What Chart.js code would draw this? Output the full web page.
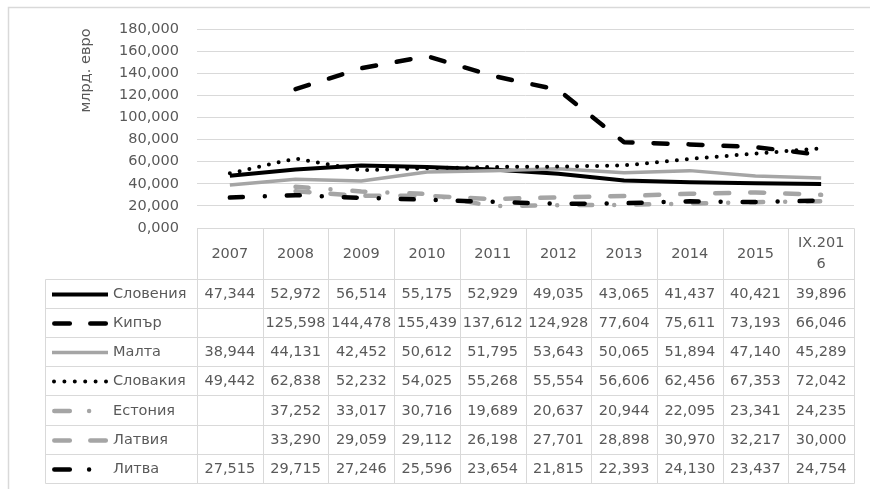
<!DOCTYPE html>
<html>
<head>
<meta charset="utf-8">
<script src="https://cdn.jsdelivr.net/npm/chart.js@4/dist/chart.umd.min.js"></script>
<style>
  html, body { margin: 0; padding: 0; background: #fff; }
  canvas { display: block; }
</style>
</head>
<body>
<canvas id="c" width="870" height="489"></canvas>
<script>
// Categories (x axis / table header)
const categories = ['2007', '2008', '2009', '2010', '2011', '2012', '2013', '2014', '2015', 'IX.2016'];

// Series values (млрд. евро)
const slovenia = [47.344, 52.972, 56.514, 55.175, 52.929, 49.035, 43.065, 41.437, 40.421, 39.896];
const cyprus   = [null, 125.598, 144.478, 155.439, 137.612, 124.928, 77.604, 75.611, 73.193, 66.046];
const malta    = [38.944, 44.131, 42.452, 50.612, 51.795, 53.643, 50.065, 51.894, 47.140, 45.289];
const slovakia = [49.442, 62.838, 52.232, 54.025, 55.268, 55.554, 56.606, 62.456, 67.353, 72.042];
const estonia  = [null, 37.252, 33.017, 30.716, 19.689, 20.637, 20.944, 22.095, 23.341, 24.235];
const latvia   = [null, 33.290, 29.059, 29.112, 26.198, 27.701, 28.898, 30.970, 32.217, 30.000];
const lithuania = [27.515, 29.715, 27.246, 25.596, 23.654, 21.815, 22.393, 24.130, 23.437, 24.754];

const seriesNames = ['Словения', 'Кипър', 'Малта', 'Словакия', 'Естония', 'Латвия', 'Литва'];
const seriesValues = [slovenia, cyprus, malta, slovakia, estonia, latvia, lithuania];

// Y axis ticks
const yMin = 0, yMax = 180, yStep = 20;
const yTitle = 'млрд. евро';

// Line styles per series (colour, width, dash in plot, dash in table key)
const BLACK = '#000000', GREY = '#a5a5a5';
const styles = [
  { color: BLACK, width: 4,   dash: [],              cap: 'butt',  key: [],                 keyFrom: 52,   keyTo: 108 },
  { color: BLACK, width: 4.5, dash: [14, 21],        cap: 'round', key: [15.5, 20.5],       keyFrom: 54.3, keyTo: 105.8 },
  { color: GREY,  width: 3.5, dash: [],              cap: 'butt',  key: [],                 keyFrom: 52,   keyTo: 108 },
  { color: BLACK, width: 4,   dash: [0, 10],         cap: 'round', key: [0, 10.4],          keyFrom: 54,   keyTo: 106.5 },
  { color: GREY,  width: 4.5, dash: [13, 22, 0, 22], cap: 'round', key: [15.5, 19.3, 0, 99], keyFrom: 54.3, keyTo: 89.3 },
  { color: GREY,  width: 4.5, dash: [14, 21],        cap: 'round', key: [15.5, 20.5],       keyFrom: 54.3, keyTo: 105.8 },
  { color: BLACK, width: 4.5, dash: [13, 22, 0, 22], cap: 'round', key: [15.5, 19.3, 0, 99], keyFrom: 54.3, keyTo: 89.3 }
];

const TEXT = '#595959';
const RULE = '#d9d9d9';
const FONT_FAMILY = '"DejaVu Sans", sans-serif';
const FONT_SIZE = 14.5;

const fmt = v => v.toFixed(3).replace('.', ',');

const datasets = seriesNames.map((name, i) => ({
  label: name,
  data: seriesValues[i],
  borderColor: styles[i].color,
  backgroundColor: styles[i].color,
  borderWidth: styles[i].width,
  borderDash: styles[i].dash,
  borderCapStyle: styles[i].cap,
  borderJoinStyle: 'round',
  pointRadius: 0,
  pointHoverRadius: 0,
  tension: 0,
  fill: false,
  spanGaps: false,
  order: seriesNames.length - 1 - i
}));

// Table geometry (below the plot)
const HEADER_H = 50;
const ROW_H = 29.1;
const KEY_LEFT = 45;
const LABEL_X = 113;

function wrapText(ctx, text, maxW) {
  const lines = [];
  let cur = '';
  for (const ch of text) {
    if (cur && ctx.measureText(cur + ch).width > maxW) {
      lines.push(cur);
      cur = ch;
    } else {
      cur += ch;
    }
  }
  if (cur) lines.push(cur);
  return lines;
}

const decorPlugin = {
  id: 'decor',
  beforeDraw(chart) {
    const ctx = chart.ctx;
    ctx.save();
    ctx.fillStyle = '#ffffff';
    ctx.fillRect(0, 0, chart.width, chart.height);
    // outer frame
    ctx.strokeStyle = RULE;
    ctx.lineWidth = 1.5;
    ctx.beginPath();
    ctx.moveTo(8.5, chart.height + 5);
    ctx.lineTo(8.5, 7.5);
    ctx.lineTo(chart.width + 5, 7.5);
    ctx.stroke();
    // axis title
    ctx.fillStyle = TEXT;
    ctx.font = FONT_SIZE + 'px ' + FONT_FAMILY;
    ctx.textAlign = 'center';
    ctx.textBaseline = 'middle';
    ctx.translate(86, 70.5);
    ctx.rotate(-Math.PI / 2);
    ctx.fillText(yTitle, 0, 0);
    ctx.restore();
  },
  afterDraw(chart) {
    const ctx = chart.ctx;
    const xs = chart.scales.x;
    const area = chart.chartArea;
    const n = categories.length;
    const step = xs.getPixelForValue(1) - xs.getPixelForValue(0);
    const bounds = [];
    for (let i = 0; i <= n; i++) bounds.push(Math.round(xs.getPixelForValue(0) - step / 2 + i * step) + 0.5);
    const top = Math.round(area.bottom) + 0.5;
    const headBottom = Math.round(top + HEADER_H) + 0.5;
    const rowY = k => Math.round(headBottom + k * ROW_H - 0.5) + 0.5;
    const tableBottom = rowY(seriesNames.length);
    const right = bounds[n];

    ctx.save();
    ctx.strokeStyle = RULE;
    ctx.lineWidth = 1;
    ctx.beginPath();
    // column verticals
    bounds.forEach(b => { ctx.moveTo(b, top); ctx.lineTo(b, tableBottom); });
    // left edge of key column
    ctx.moveTo(KEY_LEFT + 0.5, headBottom); ctx.lineTo(KEY_LEFT + 0.5, tableBottom);
    // horizontals
    ctx.moveTo(bounds[0], top); ctx.lineTo(right, top);
    for (let k = 0; k <= seriesNames.length; k++) {
      const y = rowY(k);
      ctx.moveTo(KEY_LEFT + 0.5, y); ctx.lineTo(right, y);
    }
    ctx.stroke();

    ctx.fillStyle = TEXT;
    ctx.font = FONT_SIZE + 'px ' + FONT_FAMILY;
    ctx.textBaseline = 'middle';
    ctx.textAlign = 'center';
    // header labels
    const lh = 21;
    categories.forEach((c, i) => {
      const cx = xs.getPixelForValue(i);
      const lines = wrapText(ctx, c, step - 14);
      const cy = (top + headBottom) / 2 - (lines.length - 1) * lh / 2;
      lines.forEach((ln, j) => ctx.fillText(ln, cx, cy + j * lh));
    });
    // value cells
    seriesValues.forEach((vals, r) => {
      const cy = (rowY(r) + rowY(r + 1)) / 2 + 0.5;
      vals.forEach((v, i) => {
        if (v === null) return;
        ctx.fillText(fmt(v), xs.getPixelForValue(i), cy);
      });
    });
    // legend keys and names
    ctx.textAlign = 'left';
    seriesNames.forEach((name, r) => {
      const cy = (rowY(r) + rowY(r + 1)) / 2 + 0.5;
      const st = styles[r];
      ctx.save();
      ctx.strokeStyle = st.color;
      ctx.lineWidth = st.width;
      ctx.lineCap = st.cap;
      ctx.setLineDash(st.key);
      ctx.beginPath();
      ctx.moveTo(st.keyFrom, cy);
      ctx.lineTo(st.keyTo, cy);
      ctx.stroke();
      ctx.restore();
      ctx.fillText(name, LABEL_X, cy);
    });
    ctx.restore();
  }
};

new Chart(document.getElementById('c'), {
  type: 'line',
  data: { labels: categories, datasets },
  plugins: [decorPlugin],
  options: {
    responsive: false,
    devicePixelRatio: 1,
    animation: false,
    events: [],
    layout: { padding: { left: 0, top: 29, right: 16, bottom: 261 } },
    plugins: { legend: { display: false }, tooltip: { enabled: false } },
    scales: {
      x: { display: false, offset: true },
      y: {
        min: yMin,
        max: yMax,
        afterFit(scale) { scale.width = 197; },
        ticks: {
          stepSize: yStep,
          padding: 18,
          color: TEXT,
          font: { family: FONT_FAMILY, size: FONT_SIZE },
          callback: v => fmt(v)
        },
        grid: { color: RULE, lineWidth: 1, drawTicks: false },
        border: { display: false }
      }
    }
  }
});
</script>
</body>
</html>
